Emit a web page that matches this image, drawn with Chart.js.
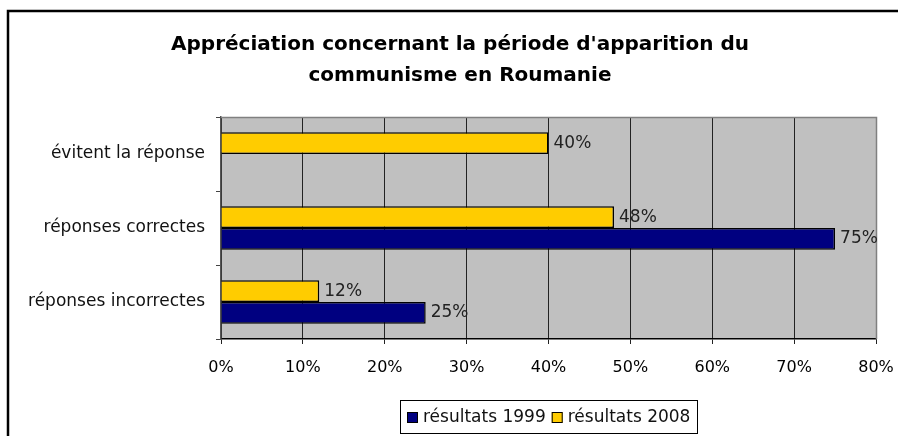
<!DOCTYPE html>
<html>
<head>
<meta charset="utf-8">
<script src="https://cdn.jsdelivr.net/npm/chart.js@4.4.1/dist/chart.umd.min.js"></script>
<style>
body { margin: 0; background: #fff; }
</style>
</head>
<body>
<canvas id="mycanvas" width="898" height="436"></canvas>
<script>
// chart data
var categories = ["évitent la réponse", "réponses correctes", "réponses incorrectes"];
var seriesLabels = ["résultats 1999", "résultats 2008"];
var results1999 = [null, 75, 25];
var results2008 = [40, 48, 12];
var xTicks = [0, 10, 20, 30, 40, 50, 60, 70, 80];
var titleLines = ["Appréciation concernant la période d'apparition du", "communisme en Roumanie"];

var FONT = "'DejaVu Sans', sans-serif";

// grey plot background, frame round the picture, value labels and legend
var decoPlugin = {
    id: 'deco',
    beforeDraw: function(chart) {
        var a = chart.chartArea, ctx = chart.ctx;
        ctx.save();
        ctx.fillStyle = '#C0C0C0';
        ctx.fillRect(a.left, a.top, a.right - a.left, a.bottom - a.top);
        ctx.restore();
    },
    beforeDatasetsDraw: function(chart) {
        var a = chart.chartArea, ctx = chart.ctx;
        ctx.save();
        ctx.strokeStyle = '#808080';
        ctx.lineWidth = 1.5;
        ctx.beginPath();
        ctx.moveTo(a.left, a.top + 0.5);
        ctx.lineTo(a.right + 0.5, a.top + 0.5);
        ctx.lineTo(a.right + 0.5, a.bottom);
        ctx.stroke();
        ctx.restore();
    },
    afterDatasetsDraw: function(chart) {
        var ctx = chart.ctx;
        ctx.save();
        ctx.font = "17px " + FONT;
        ctx.fillStyle = '#222';
        ctx.textAlign = 'left';
        ctx.textBaseline = 'middle';
        chart.data.datasets.forEach(function(ds, i) {
            var meta = chart.getDatasetMeta(i);
            meta.data.forEach(function(bar, j) {
                var v = ds.data[j];
                if (v === null) return;
                ctx.fillText(v + '%', bar.x + 5, bar.y);
            });
        });
        ctx.restore();
    },
    afterDraw: function(chart) {
        var ctx = chart.ctx, a = chart.chartArea;
        ctx.save();
        // outer frame (top and left edges visible)
        ctx.strokeStyle = '#000';
        ctx.lineWidth = 2.5;
        ctx.beginPath();
        ctx.moveTo(8, 436);
        ctx.lineTo(8, 11);
        ctx.lineTo(898, 11);
        ctx.stroke();

        // legend, 1999 first
        var items = chart.data.datasets.slice().reverse();
        ctx.font = "17px " + FONT;
        var box = 11, gap = 5, sep = 6, pad = 7;
        var total = 0;
        items.forEach(function(ds, i) {
            total += box + gap + ctx.measureText(ds.label).width;
            if (i > 0) total += sep;
        });
        var w = Math.round(total + pad * 2), h = 33;
        var cx = (a.left + a.right) / 2;
        var x0 = Math.round(cx - w / 2), y0 = 400;
        ctx.fillStyle = '#fff';
        ctx.fillRect(x0, y0, w, h);
        ctx.strokeStyle = '#000';
        ctx.lineWidth = 1;
        ctx.strokeRect(x0 + 0.5, y0 + 0.5, w, h);
        var x = x0 + pad, cy = y0 + h / 2 + 1;
        ctx.textBaseline = 'middle';
        ctx.textAlign = 'left';
        items.forEach(function(ds) {
            ctx.fillStyle = ds.backgroundColor;
            ctx.fillRect(x, cy - box / 2, box, box);
            ctx.strokeStyle = '#000';
            ctx.strokeRect(x + 0.5, cy - box / 2 + 0.5, box - 1, box - 1);
            x += box + gap;
            ctx.fillStyle = '#111';
            ctx.fillText(ds.label, x, cy);
            x += ctx.measureText(ds.label).width + sep;
        });
        ctx.restore();
    }
};

var chartdata = {
    labels: categories,
    datasets: [
        {
            label: seriesLabels[1],
            backgroundColor: "#FFCC00",
            borderColor: "#000",
            borderWidth: 1.5,
            data: results2008
        },
        {
            label: seriesLabels[0],
            backgroundColor: "#000080",
            borderColor: "#000",
            borderWidth: 1.5,
            data: results1999
        }
    ]
};

var ctx = document.getElementById("mycanvas");

var BarGraph = new Chart(ctx, {
    type: 'bar',
    data: chartdata,
    plugins: [decoPlugin],
    options: {
        indexAxis: 'y',
        responsive: false,
        animation: false,
        layout: { padding: { left: 22, top: 11, right: 0, bottom: 0 } },
        datasets: { bar: { categoryPercentage: 0.59, barPercentage: 1 } },
        plugins: {
            legend: { display: false },
            tooltip: { enabled: false },
            title: {
                display: true,
                text: titleLines,
                color: '#000',
                font: { family: FONT, size: 20, weight: 'bold', lineHeight: 1.55 },
                padding: { top: 18, bottom: 26 }
            }
        },
        scales: {
            x: {
                min: 0,
                max: 80,
                afterFit: function(scale) {
                    scale.height = 97;
                    scale.paddingLeft = 0;
                    scale.paddingRight = 22;
                },
                afterBuildTicks: function(scale) {
                    scale.ticks = xTicks.map(function(v) { return { value: v }; });
                },
                ticks: {
                    color: '#000',
                    font: { family: FONT, size: 16 },
                    padding: 14,
                    callback: function(v) { return v + '%'; }
                },
                grid: { color: '#222', lineWidth: 1, tickLength: 5 },
                border: { color: '#000', width: 1.5 }
            },
            y: {
                afterFit: function(scale) { scale.width = 199; },
                ticks: {
                    color: '#111',
                    font: { family: FONT, size: 17 },
                    padding: 11
                },
                grid: { drawOnChartArea: false, color: '#444', tickLength: 5 },
                border: { color: '#555', width: 1.5 }
            }
        }
    }
});
</script>
</body>
</html>
